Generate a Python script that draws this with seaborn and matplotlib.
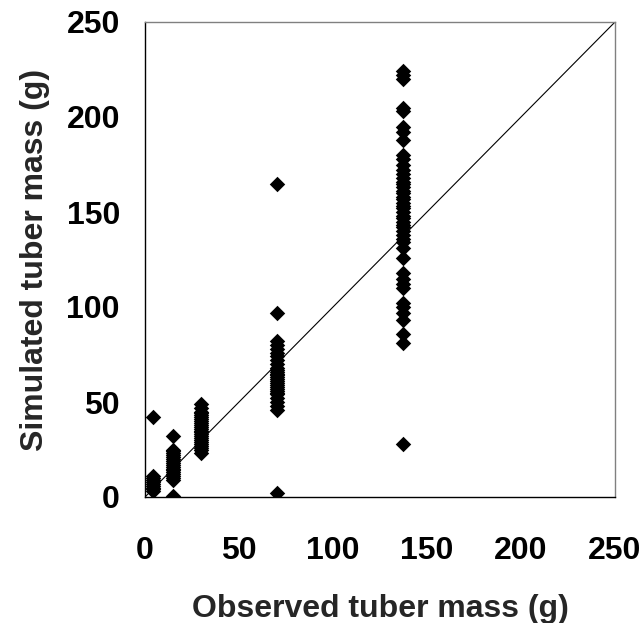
import pandas as pd
import matplotlib
matplotlib.use("Agg")
import matplotlib.pyplot as plt
import seaborn as sns

# Observed tuber mass classes (g) and simulated values
observed_levels = [4, 15, 30, 70, 137]
sim_4 = [3, 4, 5, 6, 7, 8, 9, 10, 11, 42]
sim_15 = [0.5, 9, 10, 11, 12, 13, 14, 15, 16, 17, 18, 19, 20, 21, 22, 23, 24, 25, 32]
sim_30 = [23, 25, 26, 27, 28, 29, 30, 31, 32, 33, 34, 35, 36, 37, 38, 39, 40,
          41, 42, 43, 44, 45, 47, 49]
sim_70 = [2, 46, 48, 50, 52, 54, 55, 56, 57, 58, 59, 60, 61, 62, 63, 64, 65, 66,
          67, 68, 70, 72, 74, 76, 78, 80, 82, 97, 165]
sim_137 = [28, 81, 86, 93, 97, 100, 102, 110, 112, 115, 118, 126, 131, 134, 136,
           138, 140, 142, 143, 145, 147, 148, 150, 152, 153, 155, 157, 158, 160,
           161, 163, 165, 166, 168, 170, 172, 175, 178, 180, 188, 192, 195, 203,
           205, 220, 222, 224]
ticks = [0, 50, 100, 150, 200, 250]

groups = [sim_4, sim_15, sim_30, sim_70, sim_137]
df = pd.DataFrame({
    "observed": [obs for obs, sims in zip(observed_levels, groups) for _ in sims],
    "simulated": [s for sims in groups for s in sims],
})

sns.set_style("white")
plt.rcParams["font.family"] = ["Liberation Sans", "DejaVu Sans"]
plt.rcParams["font.weight"] = "bold"

fig = plt.figure(figsize=(6.43, 6.23), dpi=100)
ax = fig.add_axes([145 / 643, 1 - 497 / 623, 470 / 643, 475 / 623])

ax.plot([0, 250], [0, 250], color="black", lw=0.8, zorder=1)
sns.scatterplot(data=df, x="observed", y="simulated", marker="D", s=62,
                color="black", linewidth=0, ax=ax, zorder=2)

ax.set_xlim(0, 250)
ax.set_ylim(0, 250)
ax.set_xticks(ticks)
ax.set_yticks(ticks)
ax.tick_params(axis="both", direction="out", length=7, width=1, colors="black",
               labelsize=23)
ax.tick_params(axis="x", pad=21)
ax.tick_params(axis="y", pad=11)
for lbl in ax.get_xticklabels() + ax.get_yticklabels():
    lbl.set_fontweight("bold")

ax.set_xlabel("Observed tuber mass (g)", fontsize=23, fontweight="bold", labelpad=20)
ax.set_ylabel("Simulated tuber mass (g)", fontsize=23, fontweight="bold", labelpad=12)

for side in ["left", "bottom"]:
    ax.spines[side].set_color("black")
    ax.spines[side].set_linewidth(1)
for side in ["top", "right"]:
    ax.spines[side].set_color("#808080")
    ax.spines[side].set_linewidth(1)

fig.savefig("out.png", dpi=100)
